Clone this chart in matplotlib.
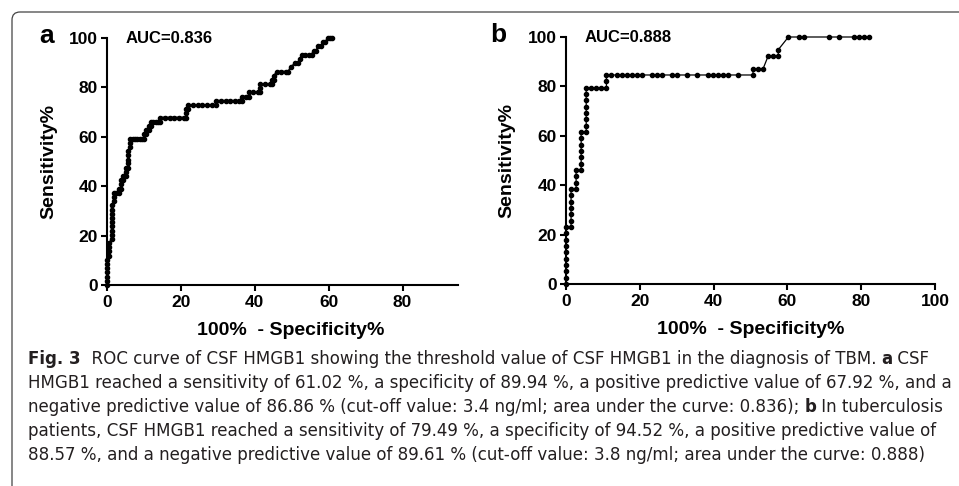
import os
import matplotlib
matplotlib.use("Agg")
import matplotlib.pyplot as plt
from matplotlib import font_manager
from matplotlib.font_manager import FontProperties
from matplotlib.patches import FancyBboxPatch

# ROC points (100% - specificity %, sensitivity %)
roc_a = [(0, 0), (0, 1.7), (0, 3.4), (0, 5.1), (0, 6.8), (0, 8.5), (0, 10.2),
         (0.63, 11.9), (0.63, 13.6), (0.63, 15.3), (0.63, 16.9),
         (1.26, 18.6), (1.26, 20.3), (1.26, 22.0), (1.26, 23.7), (1.26, 25.4),
         (1.26, 27.1), (1.26, 28.8), (1.26, 30.5), (1.26, 32.2),
         (1.89, 33.9), (1.89, 35.6), (1.89, 37.3), (2.52, 37.3), (3.14, 37.3),
         (3.14, 39.0), (3.77, 39.0), (3.77, 40.7), (3.77, 42.4), (4.40, 42.4),
         (4.40, 44.1), (5.03, 44.1), (5.03, 45.8), (5.03, 47.5), (5.66, 47.5),
         (5.66, 49.2), (5.66, 50.8), (5.66, 52.5), (5.66, 54.2), (6.29, 55.9),
         (6.29, 57.6), (6.29, 59.3), (6.92, 59.3), (7.55, 59.3), (8.18, 59.3),
         (8.81, 59.3), (9.43, 59.3), (10.06, 59.3), (10.06, 61.0), (10.69, 61.0),
         (10.69, 62.7), (11.32, 62.7), (11.32, 64.4), (11.95, 64.4), (11.95, 66.1),
         (12.58, 66.1), (13.21, 66.1), (13.84, 66.1), (14.47, 66.1), (14.47, 67.8),
         (15.72, 67.8), (16.98, 67.8), (18.24, 67.8), (19.50, 67.8), (20.75, 67.8),
         (21.38, 67.8), (21.38, 69.5), (21.38, 71.2), (22.01, 71.2), (22.01, 72.9),
         (23.27, 72.9), (24.53, 72.9), (25.79, 72.9), (27.04, 72.9), (28.30, 72.9),
         (29.56, 72.9), (29.56, 74.6), (30.82, 74.6), (32.08, 74.6), (33.33, 74.6),
         (34.59, 74.6), (35.85, 74.6), (36.48, 74.6), (36.48, 76.3), (37.74, 76.3),
         (38.36, 76.3), (38.36, 78.0), (39.62, 78.0), (40.88, 78.0), (41.51, 78.0),
         (41.51, 79.7), (41.51, 81.4), (42.77, 81.4), (44.03, 81.4), (44.65, 81.4),
         (44.65, 83.1), (45.28, 83.1), (45.28, 84.7), (45.91, 86.4), (47.17, 86.4),
         (48.43, 86.4), (49.06, 86.4), (49.69, 88.1), (50.94, 89.8), (51.57, 89.8),
         (52.20, 91.5), (52.83, 93.2), (53.46, 93.2), (54.72, 93.2), (55.35, 93.2),
         (55.97, 94.9), (56.60, 94.9), (57.23, 96.6), (57.86, 96.6), (58.49, 98.3),
         (59.12, 98.3), (59.75, 100), (60.38, 100), (61.01, 100)]

roc_b = [(0, 0), (0, 2.56), (0, 5.13), (0, 7.69), (0, 10.26), (0, 12.82),
         (0, 15.38), (0, 17.95), (0, 20.51), (0, 23.08),
         (1.37, 23.08), (1.37, 25.64), (1.37, 28.21), (1.37, 30.77), (1.37, 33.33),
         (1.37, 35.90), (1.37, 38.46),
         (2.74, 38.46), (2.74, 41.03), (2.74, 43.59), (2.74, 46.15),
         (4.11, 46.15), (4.11, 48.72), (4.11, 51.28), (4.11, 53.85), (4.11, 56.41),
         (4.11, 58.97), (4.11, 61.54),
         (5.48, 61.54), (5.48, 64.10), (5.48, 66.67), (5.48, 69.23), (5.48, 71.79),
         (5.48, 74.36), (5.48, 76.92), (5.48, 79.49),
         (6.85, 79.49), (8.22, 79.49), (9.59, 79.49), (10.96, 79.49),
         (10.96, 82.05), (10.96, 84.62),
         (12.33, 84.62), (13.70, 84.62), (15.07, 84.62), (16.44, 84.62), (17.81, 84.62),
         (19.18, 84.62), (20.55, 84.62), (23.29, 84.62), (24.66, 84.62), (26.03, 84.62),
         (28.77, 84.62), (30.14, 84.62), (32.88, 84.62), (35.62, 84.62), (38.36, 84.62),
         (39.73, 84.62), (41.10, 84.62), (42.47, 84.62), (43.84, 84.62), (46.58, 84.62),
         (50.68, 84.62), (50.68, 87.18), (52.05, 87.18), (53.42, 87.18), (54.79, 92.31),
         (56.16, 92.31), (57.53, 92.31), (57.53, 94.87), (60.27, 100), (63.01, 100),
         (64.38, 100), (71.23, 100), (73.97, 100), (78.08, 100), (79.45, 100),
         (80.82, 100), (82.19, 100)]

auc_a = "AUC=0.836"
auc_b = "AUC=0.888"
yticks = [0, 20, 40, 60, 80, 100]
xticks_a = [0, 20, 40, 60, 80]
xticks_b = [0, 20, 40, 60, 80, 100]

caption = [
    [("Fig. 3", True), ("  ROC curve of CSF HMGB1 showing the threshold value of CSF HMGB1 in the diagnosis of TBM. ", False),
     ("a", True), (" CSF", False)],
    [("HMGB1 reached a sensitivity of 61.02 %, a specificity of 89.94 %, a positive predictive value of 67.92 %, and a", False)],
    [("negative predictive value of 86.86 % (cut-off value: 3.4 ng/ml; area under the curve: 0.836); ", False),
     ("b", True), (" In tuberculosis", False)],
    [("patients, CSF HMGB1 reached a sensitivity of 79.49 %, a specificity of 94.52 %, a positive predictive value of", False)],
    [("88.57 %, and a negative predictive value of 89.61 % (cut-off value: 3.8 ng/ml; area under the curve: 0.888)", False)],
]

plt.rcParams['font.family'] = ['Liberation Sans', 'DejaVu Sans']

W, H = 959, 486
fig = plt.figure(figsize=(W / 100, H / 100), dpi=100)


def px_axes(l, t, r, b):
    return fig.add_axes([l / W, 1 - b / H, (r - l) / W, (b - t) / H])


def style(ax, xmax, xticks, ylab_x, xlab_x):
    ax.set_xlim(0, xmax)
    ax.set_ylim(0, 100)
    for s in ('top', 'right'):
        ax.spines[s].set_visible(False)
    for s in ('left', 'bottom'):
        ax.spines[s].set_linewidth(1.5)
    ax.set_xticks(xticks)
    ax.set_yticks(yticks)
    ax.tick_params(direction='out', length=4, width=1.5, labelsize=12.5)
    ax.tick_params(axis='x', pad=3.5)
    ax.tick_params(axis='y', pad=2.5)
    for lab in ax.get_xticklabels() + ax.get_yticklabels():
        lab.set_fontweight('bold')
    ax.set_xlabel('100%  - Specificity%', fontsize=14, fontweight='bold')
    ax.set_ylabel('Sensitivity%', fontsize=14, fontweight='bold')
    ax.yaxis.set_label_coords(ylab_x, 0.5)
    ax.xaxis.set_label_coords(xlab_x, -0.15)


ax_a = px_axes(107, 38, 458, 285)
ax_b = px_axes(566, 37, 935, 284)
style(ax_a, 95, xticks_a, (57 - 107) / 351, (291 - 107) / 351)
style(ax_b, 100, xticks_b, (515 - 566) / 369, 0.5)

for ax, roc, lw, auc in ((ax_a, roc_a, 1.4, auc_a), (ax_b, roc_b, 0.9, auc_b)):
    xs = [p[0] for p in roc]
    ys = [p[1] for p in roc]
    ax.plot(xs, ys, color='black', lw=lw, marker='o', ms=3.0, clip_on=False, zorder=3)
    ax.text(5, 100, auc, fontsize=12, fontweight='bold', va='center', ha='left')

fig.text(47 / W, 1 - 36 / H, 'a', fontsize=19, fontweight='bold', ha='center', va='center')
fig.text(498 / W, 1 - 35 / H, 'b', fontsize=19, fontweight='bold', ha='center', va='center')

# rounded frame: only the top and left edges are visible
frame = FancyBboxPatch((12, -30), 1100, H - 12 + 30, boxstyle='round,pad=0,rounding_size=8',
                       transform=None, fill=False, edgecolor='#444444', lw=0.9)
fig.patches.append(frame)


# caption font: look for an installed condensed sans, else a regular one
def weight_of(f):
    w = f.weight
    if isinstance(w, str):
        w = font_manager.weight_dict.get(w, 400)
    return w


def pick_caption_fonts():
    groups = {}
    for f in font_manager.fontManager.ttflist:
        base = os.path.basename(f.fname).lower()
        if f.style != 'normal' or 'extra' in base or 'ultra' in base:
            continue
        if 'semicondensed' in base:
            kind = 0
        elif 'condensed' in base or 'narrow' in base:
            kind = 1
        else:
            continue
        groups.setdefault((f.name, kind), []).append(f)
    order = ['Noto Sans', 'Open Sans', 'Roboto', 'DejaVu Sans', 'Liberation Sans Narrow', 'Liberation Sans']
    best = None
    for (name, kind), fs in groups.items():
        reg = [f for f in fs if 350 <= weight_of(f) <= 450]
        bold = [f for f in fs if weight_of(f) >= 600]
        if not reg or not bold:
            continue
        rank = (order.index(name) if name in order else len(order), kind)
        bold.sort(key=lambda f: abs(weight_of(f) - 700))
        if best is None or rank < best[0]:
            best = (rank, reg[0].fname, bold[0].fname)
    if best is None:
        return FontProperties(family='Liberation Sans'), FontProperties(family='Liberation Sans', weight='bold')
    return FontProperties(fname=best[1]), FontProperties(fname=best[2])


fp_reg, fp_bold = pick_caption_fonts()
renderer = fig.canvas.get_renderer()


def draw_line(x0, y, segs, size, keep=True):
    x = x0
    for txt, bold in segs:
        fp = (fp_bold if bold else fp_reg).copy()
        fp.set_size(size)
        t = fig.text(x / W, 1 - y / H, txt, fontproperties=fp, color='#231f20',
                     ha='left', va='center')
        x += t.get_window_extent(renderer).width
        if not keep:
            t.remove()
    return x


# largest caption size whose longest line still ends inside the picture
x_left, x_max = 28, 952
widths = [draw_line(x_left, 0, segs, 10, keep=False) - x_left for segs in caption]
cap_size = 10 * (x_max - x_left) / max(widths)

y0, dy = 359, 24
for i, segs in enumerate(caption):
    draw_line(x_left, y0 + i * dy, segs, cap_size)

fig.savefig('out.png', dpi=100)
